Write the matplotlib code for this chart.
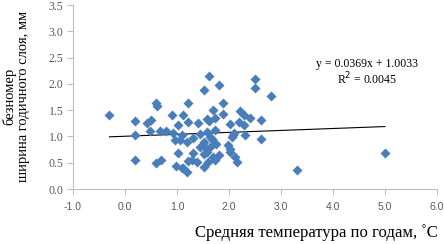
import matplotlib
matplotlib.use("Agg")
import matplotlib.pyplot as plt
import numpy as np

# mean annual temperature, C
temp = [-0.3, 0.2, 0.2, 0.2, 0.42, 0.5, 0.48, 0.6, 0.62, 0.6, 0.7, 0.67, 0.78,
        0.9, 0.92, 0.97, 1.01, 1.11, 1.10, 1.01, 0.99, 1.09, 1.2, 1.21, 1.21,
        1.20, 1.22, 1.29, 1.31, 1.38, 1.41, 1.45, 1.51, 1.51, 1.61, 1.61, 1.57,
        1.70, 1.70, 1.81, 1.89, 1.89, 2.01, 2.07, 2.02, 2.12, 2.21, 2.28, 2.31,
        2.5, 2.5, 2.8, 2.40, 2.61, 2.20, 2.28, 1.58, 1.73, 2.10, 2.61, 2.01,
        1.73, 1.57, 1.63, 1.51, 1.31, 1.51, 1.81, 1.60, 1.73, 2.15, 1.12, 1.63,
        1.99, 2.05, 1.06, 1.68, 1.55, 1.75, 1.45, 3.3, 5.0]
# ring width, mm
width = [1.40, 1.29, 1.03, 0.55, 1.26, 1.31, 1.11, 1.63, 1.58, 0.49, 0.56, 1.10, 1.10,
         1.41, 1.06, 0.93, 1.22, 1.41, 1.03, 0.68, 0.44, 0.40, 0.33, 1.64, 1.27,
         0.90, 0.53, 0.55, 0.97, 0.52, 1.25, 0.80, 0.41, 1.88, 2.15, 1.30, 0.71,
         0.60, 1.51, 1.98, 1.64, 1.43, 1.24, 1.03, 0.77, 0.61, 1.49, 1.41, 1.03,
         2.09, 1.93, 1.77, 1.36, 1.31, 1.27, 1.22, 1.33, 1.35, 1.06, 0.96, 0.71,
         1.12, 1.09, 0.99, 0.90, 0.68, 0.66, 0.65, 0.52, 0.55, 0.52, 0.39, 0.80,
         0.84, 0.99, 0.93, 0.95, 0.78, 0.85, 1.05, 0.37, 0.69]

slope = 0.0369
intercept = 1.0033

xticks = [-1, 0, 1, 2, 3, 4, 5, 6]
yticks = [0, 0.5, 1, 1.5, 2, 2.5, 3, 3.5]

fig = plt.figure(figsize=(4.44, 2.44), dpi=100)
ax = fig.add_axes([73/444, 1 - 189/244, 364/444, 184/244])

ax.scatter(temp, width, marker="D", s=26, color="#4A7EBB", linewidths=0, zorder=3)

xl = np.array([min(temp), max(temp)])
ax.plot(xl, slope*xl + intercept, color="black", lw=0.8, zorder=2)

ax.set_xlim(-1, 6)
ax.set_ylim(0, 3.5)
ax.set_xticks(xticks)
ax.set_yticks(yticks)
ax.set_xticklabels(["%.1f" % v for v in xticks], family="Liberation Sans",
                   fontsize=7.5, color="#595959")
ax.set_yticklabels(["%.1f" % v for v in yticks], family="Liberation Serif",
                   fontsize=8.5, color="#595959")
for s in ["top", "right"]:
    ax.spines[s].set_visible(False)
for s in ["left", "bottom"]:
    ax.spines[s].set_color("#BFBFBF")
    ax.spines[s].set_linewidth(0.8)
ax.tick_params(axis="both", direction="out", length=4, color="#BFBFBF", width=0.8)
ax.tick_params(axis="x", pad=5)
ax.tick_params(axis="y", pad=3)

ax.text((367-73)/364, (189-73)/184, "y = 0.0369x + 1.0033\nR$^{2}$ = 0.0045",
        transform=ax.transAxes, ha="center", va="center",
        family="Liberation Serif", fontsize=8.5, linespacing=1.05)

fig.text(16/444, 1 - 96/244, "безномер\nширина годичного слоя, мм", rotation=90,
         ha="center", va="center", family="Liberation Serif", fontsize=10.5,
         multialignment="center", linespacing=1.0)
fig.text(316/444, 1 - 233/244, "Средняя температура по годам, ˚С",
         ha="center", va="center", family="Liberation Serif", fontsize=12)

fig.savefig("out.png", dpi=100)
